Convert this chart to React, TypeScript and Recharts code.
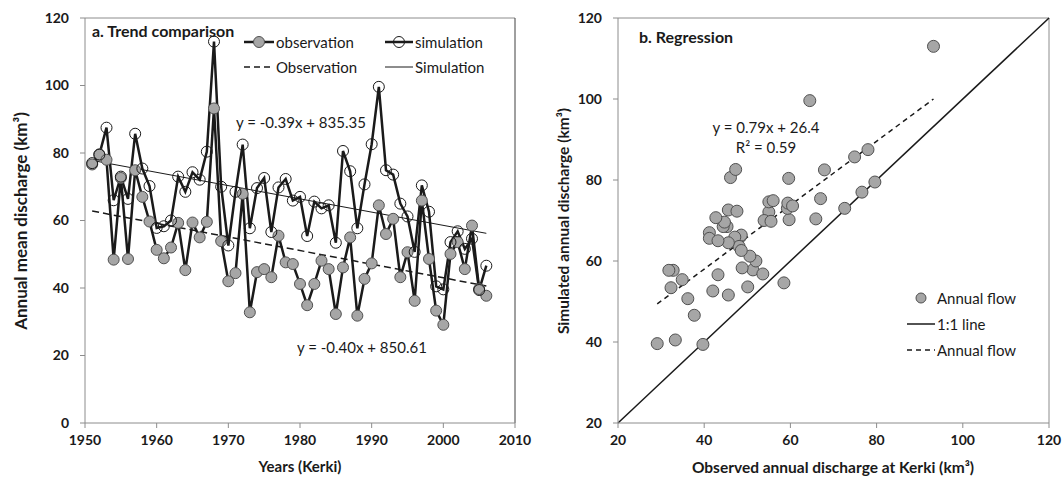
import React from 'react';
import { ComposedChart, Line, Scatter, XAxis, YAxis, ReferenceLine } from 'recharts';

const years = [
  1951, 1952, 1953, 1954, 1955, 1956, 1957, 1958, 1959, 1960,
  1961, 1962, 1963, 1964, 1965, 1966, 1967, 1968, 1969, 1970,
  1971, 1972, 1973, 1974, 1975, 1976, 1977, 1978, 1979, 1980,
  1981, 1982, 1983, 1984, 1985, 1986, 1987, 1988, 1989, 1990,
  1991, 1992, 1993, 1994, 1995, 1996, 1997, 1998, 1999, 2000,
  2001, 2002, 2003, 2004, 2005, 2006,
];

// observed annual discharge at Kerki (km3)
const observed = [
  76.6, 79.6, 78.0, 48.4, 72.6, 48.6, 74.9, 67.0, 59.7, 51.3,
  48.8, 52.0, 59.3, 45.3, 59.4, 55.0, 59.6, 93.2, 53.9, 42.0,
  44.4, 67.9, 32.8, 44.7, 45.6, 43.2, 55.5, 47.6, 47.1, 41.2,
  34.9, 41.2, 48.1, 45.6, 32.3, 46.1, 55.0, 31.8, 42.7, 47.3,
  64.5, 56.0, 60.5, 43.2, 50.6, 36.2, 65.9, 48.6, 33.3, 29.1,
  50.1, 53.6, 45.6, 58.5, 39.7, 37.7,
];

// simulated annual discharge (km3)
const simulated = [
  77.0, 79.5, 87.5, 66.0, 73.0, 66.4, 85.7, 75.4, 70.2, 57.8,
  58.3, 60.0, 73.0, 68.5, 74.3, 72.1, 80.4, 113.0, 70.0, 52.6,
  68.5, 82.5, 57.7, 69.6, 72.6, 56.6, 69.8, 72.3, 65.9, 67.0,
  55.4, 65.6, 63.6, 64.5, 53.4, 80.6, 74.6, 57.7, 70.7, 82.6,
  99.6, 74.9, 73.6, 65.0, 61.2, 50.7, 70.4, 62.6, 40.5, 39.6,
  53.6, 56.8, 51.6, 54.6, 39.4, 46.6,
];

// trend line ends
const trendYears = [1951, 2006];
const observedTrend = [62.8, 40.6];
const simulatedTrend = [77.8, 56.2];

// regression and 1:1 line ends
const regressionX = [29.1, 93.2];
const regressionY = [49.4, 100.0];
const identityEnds = [20, 120];

const yearTicks = [1950, 1960, 1970, 1980, 1990, 2000, 2010];
const dischargeTicks = [0, 20, 40, 60, 80, 100, 120];
const scatterTicks = [20, 40, 60, 80, 100, 120];

const series = years.map((year, i) => ({ year, obs: observed[i], sim: simulated[i] }));
const obsTrendLine = trendYears.map((year, i) => ({ year, value: observedTrend[i] }));
const simTrendLine = trendYears.map((year, i) => ({ year, value: simulatedTrend[i] }));
const points = observed.map((x, i) => ({ x, y: simulated[i] }));
const regressionLine = regressionX.map((x, i) => ({ x, y: regressionY[i] }));
const identityLine = identityEnds.map((v) => ({ x: v, y: v }));

const FONT = "Lato, 'Open Sans', sans-serif";
const AXIS = '#8c8c8c';
const INK = '#1a1a1a';
const GRAY = '#a6a6a6';

const tickStyle = { fontSize: 14, fontWeight: 700, fill: INK, fontFamily: FONT };
const textStyle = { fontFamily: FONT, fill: INK };

const GrayDot = (props: any) => {
  const { cx, cy } = props;
  if (cx == null || cy == null) return <g />;
  return <circle cx={cx} cy={cy} r={6} fill={GRAY} stroke="#505050" strokeWidth={1} />;
};

const TrendChart = () => (
  <ComposedChart width={540} height={480} data={series} margin={{ top: 18, right: 25, bottom: 0, left: 0 }}>
    <XAxis
      type="number"
      dataKey="year"
      domain={[1950, 2010]}
      ticks={yearTicks}
      interval={0}
      height={57}
      tick={tickStyle}
      tickSize={5}
      tickMargin={7}
      axisLine={{ stroke: AXIS }}
      tickLine={{ stroke: AXIS }}
    />
    <YAxis
      type="number"
      domain={[0, 120]}
      ticks={dischargeTicks}
      interval={0}
      width={85}
      tick={tickStyle}
      tickSize={5}
      tickMargin={11}
      axisLine={{ stroke: AXIS }}
      tickLine={{ stroke: AXIS }}
    />
    <ReferenceLine y={120} stroke={AXIS} />
    <ReferenceLine x={2010} stroke="#404040" />
    <Line
      dataKey="obs"
      stroke={INK}
      strokeWidth={2.5}
      dot={{ r: 5.5, fill: GRAY, stroke: '#505050', strokeWidth: 1 }}
      isAnimationActive={false}
    />
    <Line
      dataKey="sim"
      stroke={INK}
      strokeWidth={2.5}
      dot={{ r: 5.5, fill: 'none', stroke: INK, strokeWidth: 1 }}
      isAnimationActive={false}
    />
    <Line data={obsTrendLine} dataKey="value" stroke={INK} strokeWidth={1.5} strokeDasharray="7 4" dot={false} isAnimationActive={false} />
    <Line data={simTrendLine} dataKey="value" stroke={INK} strokeWidth={1} dot={false} isAnimationActive={false} />

    <text x={92} y={30} dominantBaseline="central" fontSize={16} fontWeight={700} style={textStyle}>a. Trend comparison</text>

    <g style={textStyle} fontSize={15}>
      <line x1={244} x2={274} y1={42} y2={42} stroke={INK} strokeWidth={2.5} />
      <circle cx={259} cy={42} r={5.5} fill={GRAY} stroke="#505050" />
      <text x={276} y={42} dominantBaseline="central">observation</text>
      <line x1={385} x2={413} y1={42} y2={42} stroke={INK} strokeWidth={2.5} />
      <circle cx={399} cy={42} r={5.5} fill="none" stroke={INK} />
      <text x={415} y={42} dominantBaseline="central">simulation</text>
      <line x1={244} x2={274} y1={67} y2={67} stroke={INK} strokeWidth={1.5} strokeDasharray="6 4" />
      <text x={276} y={67} dominantBaseline="central">Observation</text>
      <line x1={385} x2={413} y1={67} y2={67} stroke={INK} strokeWidth={1} />
      <text x={415} y={67} dominantBaseline="central">Simulation</text>
    </g>

    <text x={236} y={122} dominantBaseline="central" fontSize={15} style={textStyle}>y = -0.39x + 835.35</text>
    <text x={297} y={347} dominantBaseline="central" fontSize={15} style={textStyle}>y = -0.40x + 850.61</text>

    <text x={300} y={466} textAnchor="middle" dominantBaseline="central" fontSize={15} fontWeight={700} style={textStyle}>Years (Kerki)</text>
    <text x={20} y={221} transform="rotate(-90 20 221)" textAnchor="middle" dominantBaseline="central" fontSize={17} fontWeight={700} style={textStyle}>Annual mean discharge (km³)</text>
  </ComposedChart>
);

const RegressionChart = () => (
  <ComposedChart width={522} height={480} margin={{ top: 18, right: 13, bottom: 0, left: 0 }}>
    <XAxis
      type="number"
      dataKey="x"
      domain={[20, 120]}
      ticks={scatterTicks}
      interval={0}
      height={57}
      tick={tickStyle}
      tickSize={5}
      tickMargin={7}
      axisLine={{ stroke: AXIS }}
      tickLine={{ stroke: AXIS }}
    />
    <YAxis
      type="number"
      dataKey="y"
      domain={[20, 120]}
      ticks={scatterTicks}
      interval={0}
      width={78}
      tick={tickStyle}
      tickSize={5}
      tickMargin={11}
      axisLine={{ stroke: AXIS }}
      tickLine={{ stroke: AXIS }}
    />
    <ReferenceLine y={120} stroke={AXIS} />
    <ReferenceLine x={120} stroke={AXIS} />
    <Line data={identityLine} dataKey="y" stroke={INK} strokeWidth={1.5} dot={false} isAnimationActive={false} />
    <Line data={regressionLine} dataKey="y" stroke={INK} strokeWidth={1.5} strokeDasharray="5 4" dot={false} isAnimationActive={false} />
    <Scatter data={points} dataKey="y" shape={<GrayDot />} isAnimationActive={false} />

    <text x={99} y={36} dominantBaseline="central" fontSize={16} fontWeight={700} style={textStyle}>b. Regression</text>
    <text x={226} y={127} textAnchor="middle" dominantBaseline="central" fontSize={15} style={textStyle}>y = 0.79x + 26.4</text>
    <text x={226} y={147} textAnchor="middle" dominantBaseline="central" fontSize={15} style={textStyle}>R² = 0.59</text>

    <g style={textStyle} fontSize={15}>
      <circle cx={381} cy={298} r={5} fill={GRAY} stroke="#505050" />
      <text x={397} y={298} dominantBaseline="central">Annual flow</text>
      <line x1={367} x2={395} y1={324} y2={324} stroke={INK} strokeWidth={1.5} />
      <text x={397} y={324} dominantBaseline="central">1:1 line</text>
      <line x1={367} x2={395} y1={350} y2={350} stroke={INK} strokeWidth={1.5} strokeDasharray="5 4" />
      <text x={397} y={350} dominantBaseline="central">Annual flow</text>
    </g>

    <text x={293} y={467} textAnchor="middle" dominantBaseline="central" fontSize={15.5} fontWeight={700} style={textStyle}>Observed annual discharge at Kerki (km³)</text>
    <text x={23} y={221} transform="rotate(-90 23 221)" textAnchor="middle" dominantBaseline="central" fontSize={15.5} fontWeight={700} style={textStyle}>Simulated annual discharge (km³)</text>
  </ComposedChart>
);

export default function App() {
  return (
    <div style={{ position: 'absolute', left: 0, top: 0, width: 1062, height: 480, background: '#fff' }}>
      <div style={{ position: 'absolute', left: 0, top: 0 }}>
        <TrendChart />
      </div>
      <div style={{ position: 'absolute', left: 540, top: 0 }}>
        <RegressionChart />
      </div>
    </div>
  );
}
